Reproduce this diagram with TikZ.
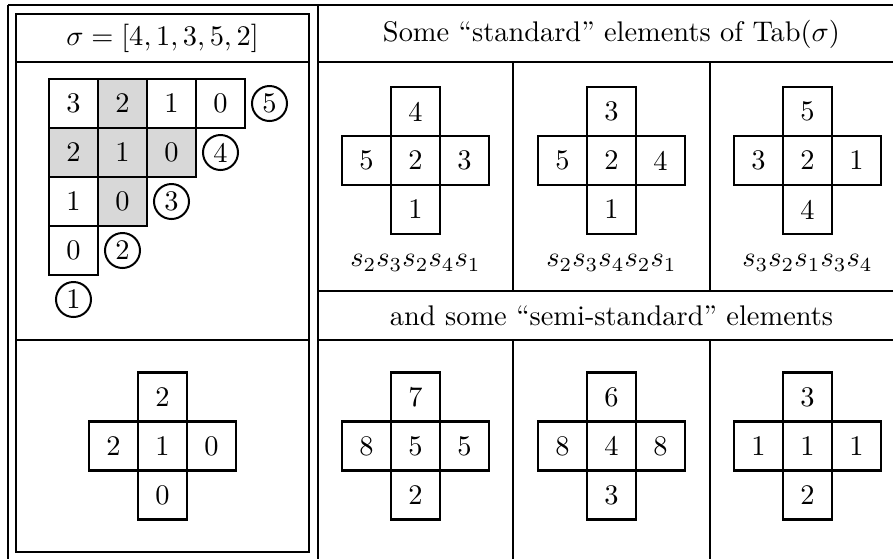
\documentclass[tikz,border=0pt]{standalone}
\definecolor{cellgray}{RGB}{216,216,216}
\newcommand{\pxu}{0.3521pt}
\newcommand{\tabcross}[8]{%
  \node[cell] (#1c) at (#2,#3) {#6};
  \node[cell] (#1t) at (#2,#3-49) {#4};
  \node[cell] (#1l) at (#2-49,#3) {#5};
  \node[cell] (#1r) at (#2+49,#3) {#7};
  \node[cell] (#1b) at (#2,#3+49) {#8};
}
\begin{document}
\begin{tikzpicture}[x=\pxu,y=-\pxu,
  every node/.style={font=\normalsize},
  cell/.style={draw, line width=2.4*\pxu, minimum size=49*\pxu, inner sep=0pt},
  gcell/.style={cell, fill=cellgray},
  circ/.style={draw, circle, line width=2*\pxu, minimum size=35*\pxu, inner sep=0pt},
  rule/.style={line width=2.4*\pxu}]
\clip (0,0) rectangle (893,558);
% table frame
\draw[rule] (8,5) -- (910,5);
\draw[rule] (8,5) -- (8,570);
\draw[rule] (318,5) -- (318,570);
\draw[rule] (16,14) rectangle (309,552);
\draw[rule] (16,62) -- (309,62);
\draw[rule] (16,340) -- (309,340);
\draw[rule] (318,62) -- (910,62);
\draw[rule] (318,291) -- (910,291);
\draw[rule] (318,340) -- (910,340);
\draw[rule] (513,62) -- (513,291);
\draw[rule] (710,62) -- (710,291);
\draw[rule] (513,340) -- (513,570);
\draw[rule] (710,340) -- (710,570);
% headers
\node (h0) at (162.5,38) {$\sigma=[4,1,3,5,2]$};
\node (h1) at (611.5,34) {Some “standard” elements of Tab$(\sigma)$};
\node (h2) at (611.5,316) {and some “semi-standard” elements};
% Young diagram
\node[cell]  (y11) at (73.5,103.5) {3};
\node[gcell] (y12) at (122.5,103.5) {2};
\node[cell]  (y13) at (171.5,103.5) {1};
\node[cell]  (y14) at (220.5,103.5) {0};
\node[gcell] (y21) at (73.5,152.5) {2};
\node[gcell] (y22) at (122.5,152.5) {1};
\node[gcell] (y23) at (171.5,152.5) {0};
\node[cell]  (y31) at (73.5,201.5) {1};
\node[gcell] (y32) at (122.5,201.5) {0};
\node[cell]  (y41) at (73.5,250.5) {0};
\node[circ] (c5) at (269.5,103.5) {5};
\node[circ] (c4) at (220.5,152.5) {4};
\node[circ] (c3) at (171.5,201.5) {3};
\node[circ] (c2) at (122.5,250.5) {2};
\node[circ] (c1) at (73.5,299.5) {1};
% crosses
\tabcross{a}{162.5}{446}{2}{2}{1}{0}{0}
\tabcross{s1}{415.5}{160.5}{4}{5}{2}{3}{1}
\tabcross{s2}{611.5}{160.5}{3}{5}{2}{4}{1}
\tabcross{s3}{807.5}{160.5}{5}{3}{2}{1}{4}
\tabcross{m1}{415.5}{446}{7}{8}{5}{5}{2}
\tabcross{m2}{611.5}{446}{6}{8}{4}{8}{3}
\tabcross{m3}{807.5}{446}{3}{1}{1}{1}{2}
% labels
\node (l1) at (415.5,263) {$s_2s_3s_2s_4s_1$};
\node (l2) at (611.5,263) {$s_2s_3s_4s_2s_1$};
\node (l3) at (807.5,263) {$s_3s_2s_1s_3s_4$};
\end{tikzpicture}
\end{document}
